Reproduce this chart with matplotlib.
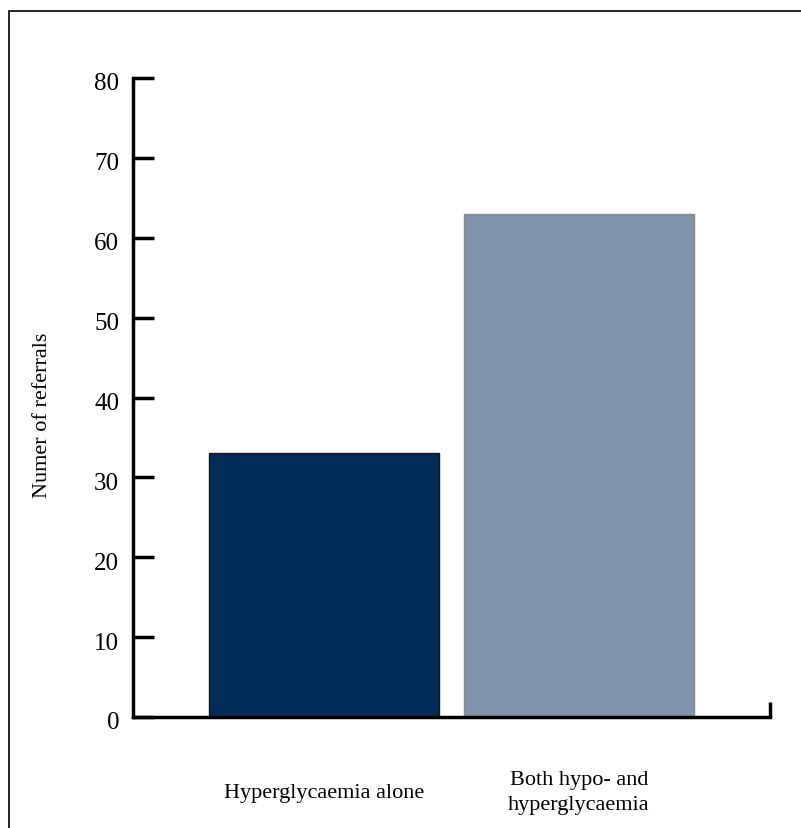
import matplotlib.pyplot as plt
from matplotlib.patches import Rectangle
from matplotlib.transforms import ScaledTranslation

categories = ['Hyperglycaemia alone', 'Both hypo- and\nhyperglycaemia']
referrals = [33, 63]
yticks = [0, 10, 20, 30, 40, 50, 60, 70, 80]
colors = ['#022b57', '#7f93aa']
edges = ['#1a1a1a', '#8c8c8c']

plt.rcParams['font.family'] = 'Liberation Serif'

W, H = 801, 829
fig = plt.figure(figsize=(W / 100, H / 100), dpi=100)

# outer frame (only top and left edge visible in the original)
fig.patches.append(Rectangle((9 / W, -0.1), 1.2, (H - 12) / H + 0.1,
                             transform=fig.transFigure, fill=False,
                             edgecolor='black', linewidth=1.2))

ax = fig.add_axes([133 / W, (H - 718) / H, (770 - 133) / W, (718 - 79) / H])
x = list(range(len(categories)))
ax.bar(x, referrals, width=230 / 255, color=colors, edgecolor=edges, linewidth=1)

ax.set_xlim(-0.749, 1.749)
ax.set_ylim(0, 80)
for s in ['top', 'right']:
    ax.spines[s].set_visible(False)
ax.spines['left'].set_linewidth(2.5)
ax.spines['bottom'].set_linewidth(2.5)

ax.set_yticks(yticks)
ax.set_yticklabels([str(v) for v in yticks], fontsize=18)
ax.tick_params(axis='y', direction='in', length=15, width=2.5, pad=10)
# labels sit a few pixels below their ticks in the original
shift = ScaledTranslation(0, -3 / 100, fig.dpi_scale_trans)
for lbl in ax.get_yticklabels():
    lbl.set_transform(lbl.get_transform() + shift)
ax.set_xticks([])

# small upward tick at the right end of the x axis
ax.plot([1, 1], [0, 15 / 639], transform=ax.transAxes, color='black',
        linewidth=2.5, clip_on=False, solid_capstyle='butt')

for xi, lab in zip(x, categories):
    ax.text(xi, -9.4, lab, ha='center', va='center', fontsize=16,
            linespacing=1.45)

fig.text(43 / W, 1 - 415 / H, 'Numer of referrals', rotation=90,
         ha='center', va='center', fontsize=16)

fig.savefig('out.png', dpi=100)
